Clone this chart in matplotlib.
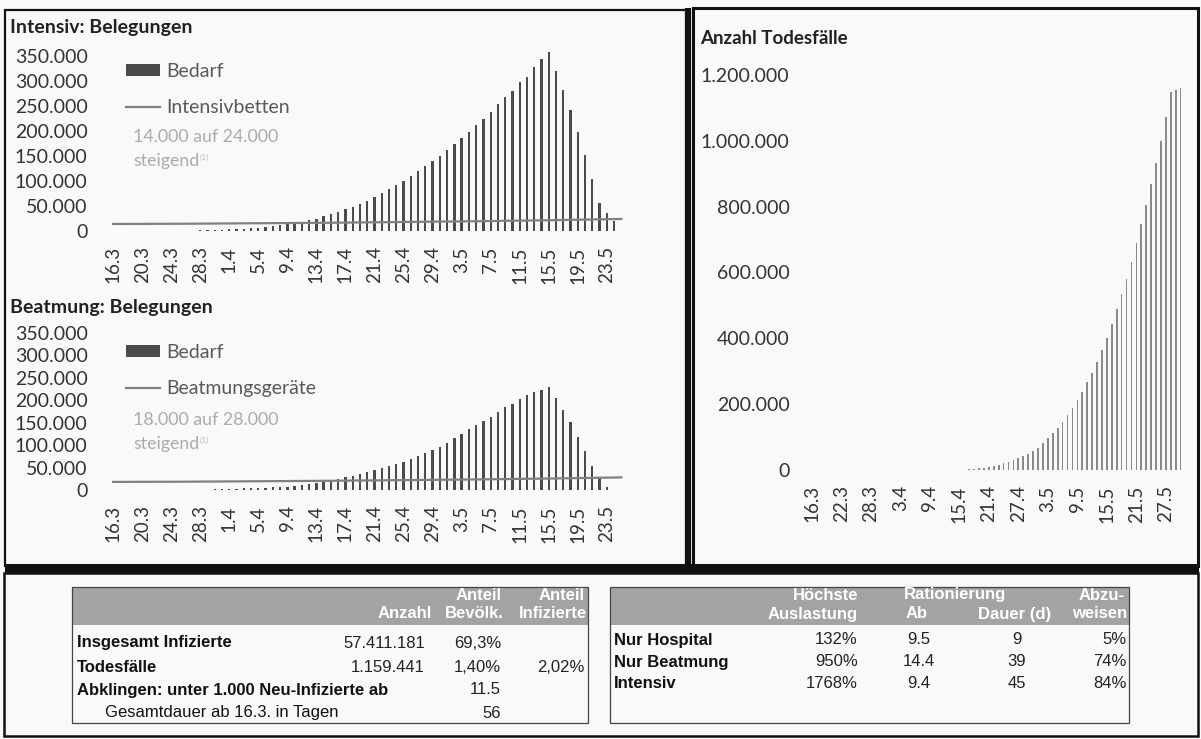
import matplotlib
matplotlib.use('Agg')
import matplotlib.pyplot as plt
from matplotlib.patches import Rectangle
from matplotlib.ticker import FuncFormatter

# ---- data -------------------------------------------------------------
icu_ticks = ['16.3', '20.3', '24.3', '28.3', '1.4', '5.4', '9.4', '13.4', '17.4',
             '21.4', '25.4', '29.4', '3.5', '7.5', '11.5', '15.5', '19.5', '23.5']
death_ticks = ['16.3', '22.3', '28.3', '3.4', '9.4', '15.4', '21.4', '27.4',
               '3.5', '9.5', '15.5', '21.5', '27.5']

# daily demand, starting 16.3.
icu_demand = [0, 0, 0, 0, 0, 0, 0, 0, 0, 0, 0, 0, 1000, 1000, 1500, 2000, 3000, 3000,
              4000, 5000, 6000, 8000, 9000, 11000, 14000, 16000, 18000, 21000, 24000,
              29000, 33000, 38000, 43000, 48000, 53000, 60000, 68000, 76000, 84000,
              92000, 99000, 109000, 119000, 129000, 139000, 150000, 162000, 174000,
              185000, 198000, 211000, 224000, 238000, 253000, 267000, 280000, 297000,
              308000, 327000, 343000, 358000, 320000, 282000, 241000, 197000, 152000,
              104000, 55000, 36000, 20000]
vent_demand = [0, 0, 0, 0, 0, 0, 0, 0, 0, 0, 0, 0, 0, 1000, 2000, 2000, 3000, 3000,
               4000, 4000, 5000, 5000, 6000, 6000, 7000, 9000, 11000, 13000, 16000,
               18000, 21000, 24000, 28000, 32000, 36000, 40000, 44000, 48000, 53000,
               58000, 63000, 70000, 76000, 83000, 90000, 96000, 105000, 115000, 125000,
               135000, 145000, 154000, 163000, 173000, 184000, 191000, 202000, 211000,
               219000, 222000, 230000, 204000, 178000, 152000, 119000, 87000, 54000,
               26000, 7000, 0]

cap_days = [0, 10, 20, 30, 40, 50, 60, 70]
icu_beds = [14000, 14500, 15500, 16500, 18000, 19500, 21500, 24000]
vent_units = [18000, 18500, 19500, 20500, 22000, 23500, 25500, 28000]

deaths = [0] * 30 + [1000, 1000, 2000, 3000, 5000, 7000, 9000, 12000, 16000, 20000,
                     25000, 31000, 37000, 43000, 50000, 58000, 68000, 83000, 96000,
                     111000, 127000, 147000, 167000, 187000, 213000, 238000, 268000,
                     296000, 329000, 365000, 400000, 443000, 488000, 535000, 579000,
                     633000, 689000, 747000, 805000, 868000, 932000, 1000000, 1073000,
                     1149000, 1155000, 1159441]

sum_head1 = ['Anteil', 'Anteil']
sum_head2 = ['Anzahl', 'Bevölk.', 'Infizierte']
sum_labels = ['Insgesamt Infizierte', 'Todesfälle',
              'Abklingen: unter 1.000 Neu-Infizierte ab', 'Gesamtdauer ab 16.3. in Tagen']
sum_count = ['57.411.181', '1.159.441', '', '']
sum_pop = ['69,3%', '1,40%', '11.5', '56']
sum_inf = ['', '2,02%', '', '']

cap_labels = ['Nur Hospital', 'Nur Beatmung', 'Intensiv']
cap_peak = ['132%', '950%', '1768%']
cap_from = ['9.5', '14.4', '9.4']
cap_dur = ['9', '39', '45']
cap_reject = ['5%', '74%', '84%']

# ---- figure -----------------------------------------------------------
W, H = 1201, 739
plt.rcParams['font.family'] = ['Lato', 'DejaVu Sans']
fig = plt.figure(figsize=(W / 100, H / 100), dpi=100, facecolor='#f9f9f9')

ov = fig.add_axes([0, 0, 1, 1], zorder=0)
ov.set_xlim(0, W)
ov.set_ylim(H, 0)
ov.axis('off')


def add_ax(x0, y0, x1, y1):
    ax = fig.add_axes([x0 / W, 1 - y1 / H, (x1 - x0) / W, (y1 - y0) / H], zorder=1)
    ax.set_facecolor('none')
    for s in ax.spines.values():
        s.set_visible(False)
    return ax


def de(v, pos=None):
    return f'{v:,.0f}'.replace(',', '.')


def occupancy(ax, demand, cap, cap_name, leg_y, note_y):
    days = range(len(demand))
    bars = ax.bar(days, demand, width=0.32, color='#4a4a4a', label='Bedarf')
    line, = ax.plot(cap_days, cap, color='#808080', lw=1.6, label=cap_name)
    ax.set_xlim(-1.8, 70.5)
    ax.set_ylim(0, 365000)
    ax.set_yticks(range(0, 350001, 50000))
    ax.yaxis.set_major_formatter(FuncFormatter(de))
    ax.set_xticks(range(0, 69, 4))
    ax.set_xticklabels(icu_ticks, rotation=90)
    ax.tick_params(axis='y', length=0, labelsize=14, colors='#333333', pad=9)
    ax.tick_params(axis='x', length=0, labelsize=13.5, colors='#333333', pad=11)
    leg = ax.legend(handles=[bars, line], loc='upper left',
                    bbox_to_anchor=(126 / W, 1 - leg_y / H), bbox_transform=fig.transFigure,
                    frameon=False, borderpad=0, borderaxespad=0, handlelength=1.75,
                    handleheight=0.55, handletextpad=0.3, labelspacing=1.0, fontsize=14)
    for t in leg.get_texts():
        t.set_color('#595959')
    ov.text(133, note_y, f'{de(cap[0])} auf {de(cap[-1])}', color='#ababab',
            fontsize=12.8, va='center')
    t2 = ov.text(133, note_y + 24, 'steigend', color='#ababab', fontsize=12.8, va='center')
    ov.annotate('(1)', xy=(1, 0.75), xycoords=t2, color='#c0c0c0', fontsize=6,
                va='center', ha='left')


# Intensiv chart
ax1 = add_ax(100, 48, 625, 231)
occupancy(ax1, icu_demand, icu_beds, 'Intensivbetten', 63, 137)
ov.text(10, 28, 'Intensiv: Belegungen', fontsize=14, fontweight='bold',
        color='#222222', va='center')

# Beatmung chart
ax2 = add_ax(100, 326, 625, 490)
occupancy(ax2, vent_demand, vent_units, 'Beatmungsgeräte', 344, 420)
ov.text(10, 308, 'Beatmung: Belegungen', fontsize=14, fontweight='bold',
        color='#222222', va='center')

# deaths chart
ax3 = add_ax(802, 58.5, 1188, 470)
ax3.bar(range(len(deaths)), deaths, width=0.35, color='#8a8a8a')
ax3.set_xlim(-2, 76.5)
ax3.set_ylim(0, 1250000)
ax3.set_yticks(range(0, 1200001, 200000))
ax3.yaxis.set_major_formatter(FuncFormatter(de))
ax3.set_xticks(range(0, 73, 6))
ax3.set_xticklabels(death_ticks, rotation=90)
ax3.tick_params(axis='y', length=0, labelsize=14, colors='#333333', pad=9)
ax3.tick_params(axis='x', length=0, labelsize=13.5, colors='#333333', pad=11)
ov.text(700, 38, 'Anzahl Todesfälle', fontsize=13.5, fontweight='bold',
        color='#222222', va='center')

# ---- panel frames -----------------------------------------------------
ov.add_patch(Rectangle((5, 10), 683, 556, fill=False, ec='#111111', lw=1.6))
ov.plot([688, 688], [8, 566], color='#111111', lw=4.5, solid_capstyle='butt')
ov.add_patch(Rectangle((693, 8), 505, 558, fill=False, ec='#111111', lw=2.2))
ov.add_patch(Rectangle((5, 564), 1194, 9, color='#111111', lw=0))
ov.add_patch(Rectangle((4, 573), 1194, 163, fill=False, ec='#111111', lw=1.8))

# ---- tables -----------------------------------------------------------
tf = ['Liberation Sans', 'DejaVu Sans']
tfs = 12
hdr = '#a3a3a3'

# left table
ov.add_patch(Rectangle((72, 587), 516, 38, color=hdr, lw=0))
ov.add_patch(Rectangle((72, 587), 516, 136, fill=False, ec='#444444', lw=0.9))
for txt, x in zip(sum_head1, [502, 585]):
    ov.text(x, 596, txt, family=tf, fontsize=tfs, fontweight='bold', color='white',
            ha='right', va='center')
for txt, x in zip(sum_head2, [432, 504, 587]):
    ov.text(x, 614, txt, family=tf, fontsize=tfs, fontweight='bold', color='white',
            ha='right', va='center')
row_y = [643, 667, 690, 713]
for i, y in enumerate(row_y):
    last = i == len(row_y) - 1
    ov.text(105 if last else 77, y, sum_labels[i], family=tf, fontsize=tfs,
            fontweight='normal' if last else 'bold', color='#111111', va='center')
    for col, x in zip([sum_count, sum_pop, sum_inf], [425, 501, 585]):
        ov.text(x, y, col[i], family=tf, fontsize=tfs, color='#222222',
                ha='right', va='center')

# right table
ov.add_patch(Rectangle((610, 587), 519, 38, color=hdr, lw=0))
ov.add_patch(Rectangle((610, 587), 519, 136, fill=False, ec='#444444', lw=0.9))
hk = dict(family=tf, fontsize=tfs, fontweight='bold', color='white', va='center')
ov.text(858, 595, 'Höchste', ha='right', **hk)
ov.text(955, 595, 'Rationierung', ha='center', **hk)
ov.text(1125, 595, 'Abzu-', ha='right', **hk)
ov.text(858, 614, 'Auslastung', ha='right', **hk)
ov.text(917, 614, 'Ab', ha='center', **hk)
ov.text(1051, 614, 'Dauer (d)', ha='right', **hk)
ov.text(1127, 614, 'weisen', ha='right', **hk)
for i, y in enumerate([640, 662, 683]):
    ov.text(614, y, cap_labels[i], family=tf, fontsize=tfs, fontweight='bold',
            color='#111111', va='center')
    ov.text(858, y, cap_peak[i], family=tf, fontsize=tfs, color='#222222',
            ha='right', va='center')
    ov.text(919, y, cap_from[i], family=tf, fontsize=tfs, color='#222222',
            ha='center', va='center')
    ov.text(1017, y, cap_dur[i], family=tf, fontsize=tfs, color='#222222',
            ha='center', va='center')
    ov.text(1127, y, cap_reject[i], family=tf, fontsize=tfs, color='#222222',
            ha='right', va='center')

fig.savefig('out.png', dpi=100, facecolor=fig.get_facecolor())
